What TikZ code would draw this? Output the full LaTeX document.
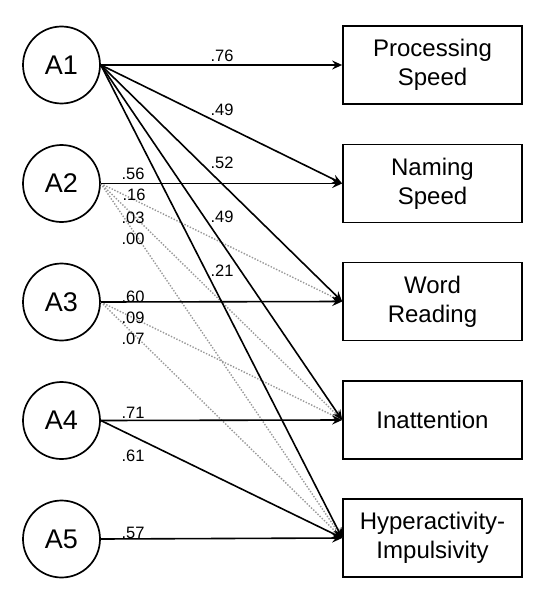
\documentclass[tikz,border=0pt]{standalone}
\usepackage{fontspec}
\setmainfont{Liberation Sans}
\usetikzlibrary{arrows.meta,positioning}

\tikzset{
  factor/.style={circle,draw,line width=1.7pt,minimum size=77pt,inner sep=0pt,font=\fontsize{27}{30}\selectfont},
  outcome/.style={rectangle,draw,line width=1.7pt,minimum width=179pt,minimum height=78pt,align=center,font=\fontsize{24}{29}\selectfont},
  load/.style={-{Stealth[length=10pt,width=9pt,inset=3.5pt]},line width=1.6pt},
  weak/.style={-{Stealth[length=10pt,width=9pt,inset=3.5pt]},line width=1.4pt,gray!80,dash pattern=on 1.4pt off 1.6pt},
  wt/.style={inner sep=0pt,font=\fontsize{16.5}{18}\selectfont}
}

\begin{document}
\begin{tikzpicture}[x=1pt,y=-1pt]
  \useasboundingbox (0,0) rectangle (551,599);

  % factors
  \foreach \i/\y in {1/65,2/183.5,3/302,4/420.5,5/539} {
    \node[factor] (a\i) at (61.5,\y) {A\i};
  }

  % outcomes
  \node[outcome] (ps) at (432.5,65) {Processing\\Speed};
  \node[outcome] (ns) at (432.5,183.5) {Naming\\Speed};
  \node[outcome] (wr) at (432.5,301.5) {Word\\Reading};
  \node[outcome] (ia) at (432.5,420) {Inattention};
  \node[outcome] (hi) at (432.5,538) {Hyperactivity-\\Impulsivity};

  % non-significant paths
  \draw[weak] (a2.east) -- (wr.west);
  \draw[weak] (a2.east) -- (ia.west);
  \draw[weak] (a2.east) -- (hi.west);
  \draw[weak] (a3.east) -- (ia.west);
  \draw[weak] (a3.east) -- (hi.west);

  % significant paths
  \foreach \t in {ps,ns,wr,ia,hi} {
    \draw[load] (a1.east) -- (\t.west);
  }
  \draw[load] (a2.east) -- (ns.west);
  \draw[load] (a3.east) -- (wr.west);
  \draw[load] (a4.east) -- (ia.west);
  \draw[load] (a4.east) -- (hi.west);
  \draw[load] (a5.east) -- (hi.west);

  % loadings
  \foreach \n/\x/\y/\v in {
      a/222/56/.76, b/222/110/.49, c/222/163/.52, d/222/217/.49, e/222/271/.21,
      f/133/174/.56, g/134/195/.16, h/133/218/.03, k/133/239/.00,
      l/133/297/.60, m/133/318/.09, o/133/339/.07,
      p/133/413/.71, q/133/456/.61, r/133/533/.57} {
    \node[wt] (w\n) at (\x,\y) {\v};
  }
\end{tikzpicture}
\end{document}
